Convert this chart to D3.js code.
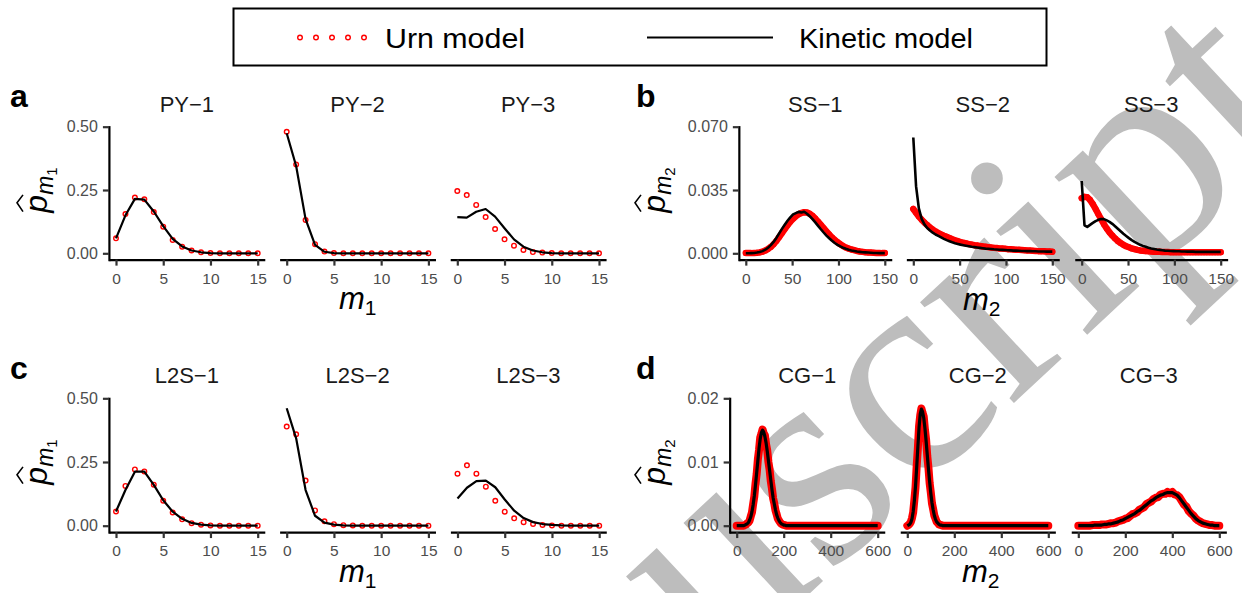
<!DOCTYPE html>
<html>
<head>
<meta charset="utf-8">
<script src="https://cdn.jsdelivr.net/npm/d3@7"></script>
<style>
  body { margin: 0; background: #fff; }
  svg { display: block; font-family: "Liberation Sans", Arial, sans-serif; }
</style>
</head>
<body>
<svg id="chart" width="1242" height="593"></svg>
<script>
// ---------- data ----------
const m1Ticks = [0, 5, 10, 15];
const ssTicks = [0, 50, 100, 150];
const cgTicks = [0, 200, 400, 600];
const pm1Ticks = [0, 0.25, 0.5];
const ssYTicks = [0, 0.035, 0.07];
const cgYTicks = [0, 0.01, 0.02];

const m1 = d3.range(0, 16);
const ssX = d3.range(0, 151, 3);
const cgX = d3.range(0, 250, 5).concat(d3.range(250, 601, 10));
const cg3X = d3.range(0, 601, 10);

const urnPY1 = [0.059, 0.155, 0.220, 0.213, 0.163, 0.105, 0.053, 0.026, 0.011, 0.004, 0.001, 0, 0, 0, 0, 0];
const kinPY1 = [0.059, 0.150, 0.215, 0.212, 0.165, 0.107, 0.057, 0.027, 0.011, 0.004, 0.001, 0, 0, 0, 0, 0];
const urnPY2 = [0.480, 0.351, 0.132, 0.036, 0.007, 0.001, 0, 0, 0, 0, 0, 0, 0, 0, 0, 0];
const kinPY2 = [0.474, 0.345, 0.135, 0.033, 0.006, 0.001, 0, 0, 0, 0, 0, 0, 0, 0, 0, 0];
const urnPY3 = [0.246, 0.230, 0.191, 0.143, 0.096, 0.055, 0.030, 0.013, 0.005, 0.003, 0.001, 0, 0, 0, 0, 0];
const kinPY3 = [0.143, 0.141, 0.164, 0.175, 0.145, 0.099, 0.055, 0.026, 0.011, 0.004, 0.001, 0, 0, 0, 0, 0];

const urnL2S1 = [0.056, 0.156, 0.221, 0.213, 0.161, 0.098, 0.052, 0.025, 0.010, 0.004, 0.001, 0, 0, 0, 0, 0];
const kinL2S1 = [0.056, 0.140, 0.212, 0.212, 0.160, 0.100, 0.055, 0.027, 0.011, 0.004, 0.001, 0, 0, 0, 0, 0];
const urnL2S2 = [0.389, 0.359, 0.177, 0.060, 0.017, 0.006, 0.002, 0.001, 0, 0, 0, 0, 0, 0, 0, 0];
const kinL2S2 = [0.461, 0.343, 0.140, 0.039, 0.012, 0.004, 0.001, 0, 0, 0, 0, 0, 0, 0, 0, 0];
const urnL2S3 = [0.204, 0.237, 0.204, 0.153, 0.098, 0.055, 0.029, 0.014, 0.007, 0.003, 0.001, 0, 0, 0, 0, 0];
const kinL2S3 = [0.107, 0.149, 0.175, 0.177, 0.151, 0.103, 0.059, 0.030, 0.014, 0.0065, 0.003, 0.001, 0, 0, 0, 0];

const urnSS1 = [0.0001,0.0001,0.0001,0.0002,0.0003,0.0005,0.0009,0.0015,0.0024,0.0035,0.0050,0.0068,0.0090,0.0112,0.0134,0.0155,0.0175,0.0191,0.0205,0.0216,0.0223,0.0227,0.0226,0.0219,0.0207,0.0192,0.0175,0.0157,0.0139,0.0121,0.0104,0.0088,0.0074,0.0061,0.0050,0.0040,0.0032,0.0026,0.0021,0.0017,0.0013,0.0010,0.0008,0.0006,0.0005,0.0004,0.0003,0.0002,0.0002,0.0001,0.0001];
const kinSS1 = [0,0,0.0001,0.0002,0.0004,0.0007,0.0012,0.0020,0.0031,0.0045,0.0063,0.0085,0.0110,0.0135,0.0158,0.0180,0.0199,0.0215,0.0222,0.0229,0.0226,0.0230,0.0219,0.0205,0.0189,0.0171,0.0152,0.0133,0.0115,0.0098,0.0083,0.0069,0.0057,0.0047,0.0038,0.0031,0.0025,0.0020,0.0016,0.0013,0.0010,0.0008,0.0006,0.0005,0.0004,0.0003,0.0002,0.0002,0.0001,0.0001,0.0001];
const urnSS2 = [0.0245,0.0224,0.0203,0.0186,0.0170,0.0156,0.0143,0.0131,0.0121,0.0112,0.0104,0.0097,0.0091,0.0085,0.0078,0.0072,0.0067,0.0062,0.0058,0.0055,0.0051,0.0048,0.0045,0.0043,0.0040,0.0038,0.0036,0.0034,0.0032,0.0030,0.0029,0.0027,0.0026,0.0025,0.0023,0.0022,0.0021,0.0020,0.0019,0.0018,0.0017,0.0016,0.0015,0.0014,0.0013,0.0012,0.0012,0.0011,0.0010,0.0010,0.0009];
const kinSS2 = [0.0640,0.0370,0.0248,0.0190,0.0160,0.0140,0.0126,0.0114,0.0104,0.0096,0.0088,0.0080,0.0073,0.0067,0.0061,0.0056,0.0052,0.0048,0.0045,0.0042,0.0039,0.0036,0.0034,0.0032,0.0030,0.0028,0.0026,0.0025,0.0024,0.0022,0.0021,0.0020,0.0019,0.0018,0.0017,0.0016,0.0015,0.0015,0.0014,0.0013,0.0013,0.0012,0.0012,0.0011,0.0011,0.0010,0.0010,0.0010,0.0009,0.0009,0.0009];
const urnSS3 = [0.0305,0.0312,0.0310,0.0295,0.0272,0.0245,0.0216,0.0188,0.0161,0.0137,0.0116,0.0098,0.0082,0.0068,0.0057,0.0047,0.0039,0.0033,0.0027,0.0023,0.0019,0.0016,0.0014,0.0012,0.0011,0.0010,0.0009,0.0008,0.0008,0.0007,0.0007,0.0007,0.0006,0.0006,0.0006,0.0006,0.0006,0.0006,0.0006,0.0006,0.0006,0.0006,0.0006,0.0006,0.0006,0.0006,0.0006,0.0006,0.0006,0.0006,0.0006];
const kinSS3 = [0.0400,0.0155,0.0146,0.0157,0.0168,0.0178,0.0185,0.0190,0.0189,0.0182,0.0174,0.0163,0.0150,0.0136,0.0122,0.0108,0.0096,0.0084,0.0073,0.0063,0.0055,0.0047,0.0041,0.0036,0.0031,0.0027,0.0024,0.0021,0.0019,0.0017,0.0015,0.0014,0.0013,0.0012,0.0011,0.0011,0.0010,0.0010,0.0009,0.0009,0.0009,0.0008,0.0008,0.0008,0.0008,0.0008,0.0008,0.0008,0.0008,0.0008,0.0008];

const urnCG1 = [0,0,0,0,0, 0,0,0.0001,0.0002,0.0004, 0.0005,0.0008,0.0015,0.0021,0.0034, 0.0046,0.0066,0.0081,0.0104,0.0119, 0.0138,0.0144,0.0151,0.0145,0.0142, 0.0128,0.0118,0.0100,0.0088,0.0070, 0.0058,0.0043,0.0035,0.0024,0.0018, 0.0011,0.0008,0.0005,0.0003,0.0002, 0.0001,0.0001,0,0,0, 0,0,0,0,0,
  0,0,0,0,0,0,0,0,0,0,0,0,0,0,0,0,0,0,0,0,0,0,0,0,0,0,0,0,0,0,0,0,0,0,0,0];
const kinCG1 = [0,0,0,0,0, 0,0,0.0001,0.0002,0.0003, 0.0005,0.0009,0.0014,0.0022,0.0033, 0.0047,0.0064,0.0083,0.0102,0.0121, 0.0136,0.0146,0.0150,0.0147,0.0140, 0.0130,0.0117,0.0102,0.0087,0.0072, 0.0057,0.0044,0.0034,0.0025,0.0017, 0.0012,0.0008,0.0005,0.0003,0.0002, 0.0001,0.0001,0,0,0, 0,0,0,0,0,
  0,0,0,0,0,0,0,0,0,0,0,0,0,0,0,0,0,0,0,0,0,0,0,0,0,0,0,0,0,0,0,0,0,0,0,0];
const urnCG2 = [0,0.0001,0.0003,0.0006,0.0012, 0.0021,0.0040,0.0060,0.0094,0.0122, 0.0156,0.0173,0.0184,0.0177,0.0171, 0.0151,0.0135,0.0109,0.0091,0.0067, 0.0052,0.0035,0.0026,0.0016,0.0011, 0.0006,0.0004,0.0002,0.0001,0.0001, 0,0,0,0,0, 0,0,0,0,0, 0,0,0,0,0, 0,0,0,0,0,
  0,0,0,0,0,0,0,0,0,0,0,0,0,0,0,0,0,0,0,0,0,0,0,0,0,0,0,0,0,0,0,0,0,0,0,0];
const kinCG2 = [0,0.0001,0.0002,0.0005,0.0011, 0.0022,0.0039,0.0062,0.0092,0.0124, 0.0154,0.0175,0.0183,0.0179,0.0169, 0.0153,0.0133,0.0111,0.0089,0.0069, 0.0051,0.0036,0.0025,0.0016,0.0010, 0.0006,0.0004,0.0002,0.0001,0.0001, 0,0,0,0,0, 0,0,0,0,0, 0,0,0,0,0, 0,0,0,0,0,
  0,0,0,0,0,0,0,0,0,0,0,0,0,0,0,0,0,0,0,0,0,0,0,0,0,0,0,0,0,0,0,0,0,0,0,0];
const urnCG3 = [0,0,0,0,0, 0,0.0001,0.0001,0.0001,0.0001, 0.0002,0.0002,0.0002,0.0003,0.0004, 0.0004,0.0005,0.0007,0.0008,0.0009, 0.0011,0.0012,0.0015,0.0018,0.0019, 0.0021,0.0025,0.0027,0.0029,0.0034, 0.0036,0.0038,0.0042,0.0044,0.0045, 0.0049,0.0050,0.0050,0.0053,0.0051, 0.0053,0.0049,0.0048,0.0045,0.0039, 0.0033,0.0030,0.0023,0.0019,0.0016, 0.0011,0.0008,0.0006,0.0004,0.0003, 0.0002,0.0001,0.0001,0,0, 0];
const kinCG3 = [0,0,0,0,0, 0,0,0.0001,0.0001,0.0001, 0.0001,0.0002,0.0002,0.0003,0.0003, 0.0004,0.0005,0.0006,0.0008,0.0009, 0.0011,0.0013,0.0015,0.0017,0.0019, 0.0022,0.0024,0.0027,0.0030,0.0033, 0.0036,0.0039,0.0041,0.0044,0.0046, 0.0048,0.0049,0.0051,0.0052,0.0052, 0.0052,0.0050,0.0048,0.0044,0.0039, 0.0034,0.0029,0.0024,0.0019,0.0015, 0.0011,0.0008,0.0006,0.0004,0.0003, 0.0002,0.0001,0.0001,0,0, 0];

// ---------- layout ----------
const svg = d3.select("#chart");
const RED = "#ff0000";

// watermark sits behind the plot (anchored on the dot of the i)
svg.append("text")
  .attr("transform", "translate(988,177) rotate(-43) translate(-1091,183)")
  .attr("fill", "#bdbdbd")
  .style("font-family", "Liberation Serif, Times New Roman, serif")
  .style("font-size", "300px")
  .text("Manuscript");

const panels = [
  { letter: "a", lx: 10, ly: 107, x0s: [116, 286.7, 457.3], w: 141.7, yBase: 253.3, yTop: 126.7,
    xMax: 15, yMax: 0.5, xTicks: m1Ticks, yTicks: pm1Ticks, yFmt: d3.format(".2f"), dense: false,
    xTitle: { x: 339, y: 309, sub: "1" }, yTitle: { x: 47, y: 190, sub: "1" },
    facets: [
      { title: "PY\u22121", x: m1, urn: urnPY1, kin: kinPY1 },
      { title: "PY\u22122", x: m1, urn: urnPY2, kin: kinPY2 },
      { title: "PY\u22123", x: m1, urn: urnPY3, kin: kinPY3 } ] },
  { letter: "b", lx: 636, ly: 107, x0s: [745.8, 913.3, 1081.7], w: 139, yBase: 253.3, yTop: 126.7,
    xMax: 150, yMax: 0.07, xTicks: ssTicks, yTicks: ssYTicks, yFmt: d3.format(".3f"), dense: true, band: 6.5, lw: 2.6,
    xTitle: { x: 963, y: 310, sub: "2" }, yTitle: { x: 665, y: 190, sub: "2" },
    facets: [
      { title: "SS\u22121", x: ssX, urn: urnSS1, kin: kinSS1 },
      { title: "SS\u22122", x: ssX, urn: urnSS2, kin: kinSS2 },
      { title: "SS\u22123", x: ssX, urn: urnSS3, kin: kinSS3 } ] },
  { letter: "c", lx: 10, ly: 379, x0s: [116, 286.7, 457.5], w: 141.7, yBase: 525.7, yTop: 398.3,
    xMax: 15, yMax: 0.5, xTicks: m1Ticks, yTicks: pm1Ticks, yFmt: d3.format(".2f"), dense: false,
    xTitle: { x: 339, y: 582, sub: "1" }, yTitle: { x: 47, y: 462, sub: "1" },
    facets: [
      { title: "L2S\u22121", x: m1, urn: urnL2S1, kin: kinL2S1 },
      { title: "L2S\u22122", x: m1, urn: urnL2S2, kin: kinL2S2 },
      { title: "L2S\u22123", x: m1, urn: urnL2S3, kin: kinL2S3 } ] },
  { letter: "d", lx: 636, ly: 379, x0s: [736.7, 907.3, 1078.3], w: 141, yBase: 525.7, yTop: 398.3,
    xMax: 600, yMax: 0.02, xTicks: cgTicks, yTicks: cgYTicks, yFmt: d3.format(".2f"), dense: true, band: 8, lw: 3.2,
    xTitle: { x: 962, y: 582, sub: "2" }, yTitle: { x: 665, y: 462, sub: "2" },
    facets: [
      { title: "CG\u22121", x: cgX, urn: urnCG1, kin: kinCG1 },
      { title: "CG\u22122", x: cgX, urn: urnCG2, kin: kinCG2 },
      { title: "CG\u22123", x: cg3X, urn: urnCG3, kin: kinCG3 } ] }
];

panels.forEach(p => {
  const h = p.yBase - p.yTop;
  const y = d3.scaleLinear().domain([-0.05 * p.yMax, p.yMax]).range([p.yBase + 0.05 * h, p.yTop]);

  svg.append("text").attr("x", p.lx).attr("y", p.ly)
    .style("font-size", "32px").style("font-weight", "bold").text(p.letter);

  p.facets.forEach((f, i) => {
    const x0 = p.x0s[i];
    const x = d3.scaleLinear().domain([-0.05 * p.xMax, 1.05 * p.xMax]).range([x0 - 0.05 * p.w, x0 + 1.05 * p.w]);
    const g = svg.append("g");

    g.append("text").attr("x", x(p.xMax / 2)).attr("y", p.yTop - 15)
      .attr("text-anchor", "middle").style("font-size", "22px").attr("fill", "#1a1a1a").text(f.title);

    // x axis
    const xa = g.append("g").attr("transform", `translate(0,${y.range()[0]})`)
      .call(d3.axisBottom(x).tickValues(p.xTicks).tickSize(6).tickPadding(7).tickSizeOuter(0));
    xa.select(".domain").attr("stroke", "#000").attr("stroke-width", 2.2);
    xa.selectAll(".tick line").attr("stroke", "#333").attr("stroke-width", 2.2);
    xa.selectAll(".tick text").attr("fill", "#4d4d4d").style("font-size", "15.5px")
      .style("font-family", "Liberation Sans, Arial, sans-serif");

    if (i === 0) {
      const ya = g.append("g").attr("transform", `translate(${x.range()[0]},0)`)
        .call(d3.axisLeft(y).tickValues(p.yTicks).tickFormat(p.yFmt).tickSize(6).tickPadding(5).tickSizeOuter(0));
      ya.select(".domain").attr("stroke", "#000").attr("stroke-width", 2.2).attr("stroke-linecap", "square");
      ya.selectAll(".tick line").attr("stroke", "#333").attr("stroke-width", 2.2);
      ya.selectAll(".tick text").attr("fill", "#4d4d4d").style("font-size", "16px")
        .style("font-family", "Liberation Sans, Arial, sans-serif");
    }

    const pts = f.x.map((v, k) => [v, f.urn[k]]);
    const line = d3.line().x(d => x(d[0])).y(d => y(d[1]));

    if (p.dense) {
      g.append("path").attr("d", line(pts)).attr("fill", "none").attr("stroke", RED)
        .attr("stroke-width", p.band).attr("stroke-linejoin", "round").attr("stroke-linecap", "round");
    }
    g.append("g").selectAll("circle").data(pts).join("circle")
      .attr("cx", d => x(d[0])).attr("cy", d => y(d[1])).attr("r", 2.3)
      .attr("fill", p.dense ? "none" : "#fff").attr("stroke", RED).attr("stroke-width", 1.4);

    const kin = f.x.map((v, k) => [v, f.kin[k]]);
    g.append("path").attr("d", line(kin)).attr("fill", "none").attr("stroke", "#000")
      .attr("stroke-width", p.dense ? p.lw : 2.2).attr("stroke-linejoin", "round");
  });

  // x title  m_1 / m_2
  const xt = svg.append("text").attr("x", p.xTitle.x).attr("y", p.xTitle.y).style("font-size", "31px");
  xt.append("tspan").style("font-style", "italic").text("m");
  xt.append("tspan").attr("dy", 6).style("font-size", "21px").text(p.xTitle.sub);

  // y title  p-hat with subscript m_k
  const yg = svg.append("g").attr("transform", `translate(${p.yTitle.x},${p.yTitle.y}) rotate(-90)`);
  const yt = yg.append("text").attr("text-anchor", "middle").style("font-size", "32px");
  yt.append("tspan").style("font-style", "italic").text("p");
  yt.append("tspan").attr("dy", 6).style("font-style", "italic").style("font-size", "23px").text("m");
  yt.append("tspan").attr("dy", 4).style("font-size", "15px").text(p.yTitle.sub);
  const e = yt.node().getExtentOfChar(0);
  yg.append("path")
    .attr("d", `M${e.x + 1},${e.y + 5} L${e.x + e.width / 2 + 1},${e.y - 1} L${e.x + e.width},${e.y + 5}`)
    .attr("fill", "none").attr("stroke", "#000").attr("stroke-width", 1.6);
});

// ---------- legend ----------
const lg = svg.append("g");
lg.append("rect").attr("x", 233.5).attr("y", 8.5).attr("width", 813).attr("height", 57)
  .attr("fill", "#fff").attr("stroke", "#000").attr("stroke-width", 2);
lg.selectAll("circle").data(d3.range(5)).join("circle")
  .attr("cx", d => 300 + d * 16).attr("cy", 37.5).attr("r", 2.3)
  .attr("fill", "#fff").attr("stroke", RED).attr("stroke-width", 1.4);
lg.append("text").attr("x", 385).attr("y", 48).style("font-size", "27px")
  .attr("textLength", 140).attr("lengthAdjust", "spacingAndGlyphs").text("Urn model");
lg.append("line").attr("x1", 647).attr("x2", 773).attr("y1", 37.5).attr("y2", 37.5)
  .attr("stroke", "#000").attr("stroke-width", 2.2);
lg.append("text").attr("x", 799).attr("y", 48).style("font-size", "27px")
  .attr("textLength", 174).attr("lengthAdjust", "spacingAndGlyphs").text("Kinetic model");
</script>
</body>
</html>
